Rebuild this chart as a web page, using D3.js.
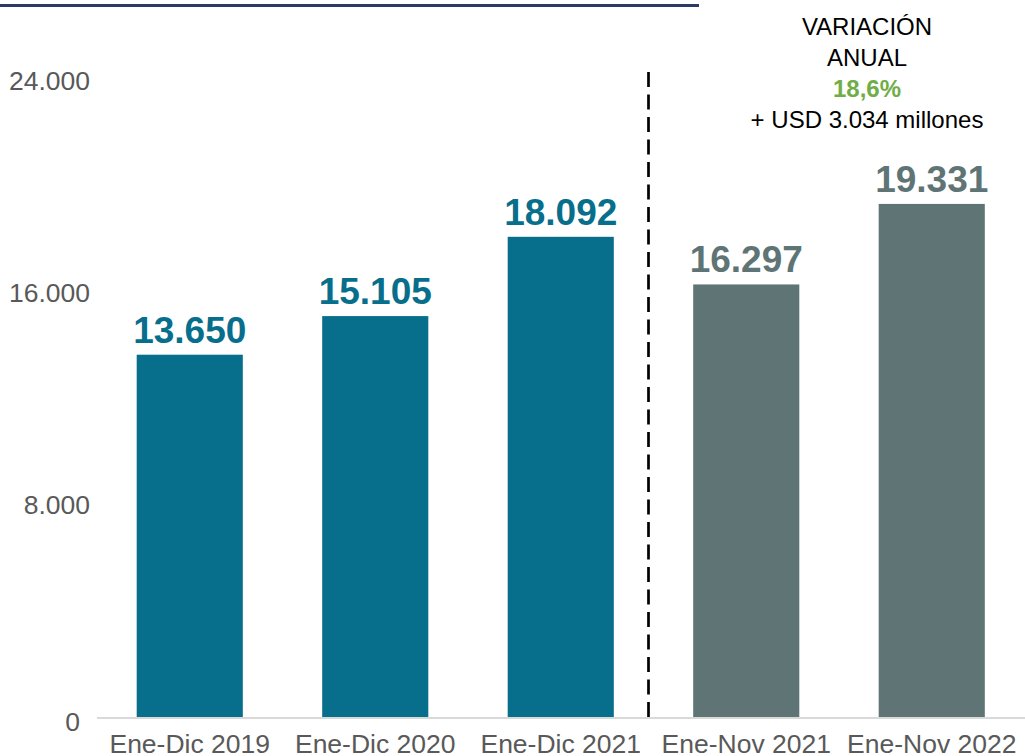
<!DOCTYPE html>
<html>
<head>
<meta charset="utf-8">
<script src="https://cdn.jsdelivr.net/npm/d3@7"></script>
<style>
    body { margin: 0; background: #fff; }
    svg { display: block; font-family: "Liberation Sans", Arial, sans-serif; }
</style>
</head>
<body>
<div class="chart"></div>
<script>
// Data
const categories = ["Ene-Dic 2019", "Ene-Dic 2020", "Ene-Dic 2021", "Ene-Nov 2021", "Ene-Nov 2022"];
const values = [13650, 15105, 18092, 16297, 19331];
const groups = ["anual", "anual", "anual", "parcial", "parcial"];
const yTicks = [0, 8000, 16000, 24000];
const noteTitle = ["VARIACIÓN", "ANUAL"];

const width = 1025, height = 756;
const margin = { top: 80, right: 1, bottom: 39, left: 97 };

const es = d3.formatLocale({ decimal: ",", thousands: ".", grouping: [3], currency: ["USD ", ""] });
const fmtNum = es.format(",d");
const fmtPct = es.format(".1%");

const color = d3.scaleOrdinal()
    .domain(["anual", "parcial"])
    .range(["#076E8B", "#5E7475"]);

const svg = d3.select(".chart").append("svg")
    .attr("width", width)
    .attr("height", height);

const x = d3.scaleBand()
    .domain(categories)
    .range([margin.left, width - margin.right + 0.5])
    .paddingInner(0.428)
    .paddingOuter(0.214);

const y = d3.scaleLinear()
    .domain([0, 24000])
    .range([height - margin.bottom, margin.top]);

// Top rule
svg.append("line")
    .attr("x1", 0).attr("x2", 699)
    .attr("y1", 5.5).attr("y2", 5.5)
    .attr("stroke", "#2E3A66")
    .attr("stroke-width", 3);

// Y axis labels
const yAxis = svg.append("g")
    .attr("transform", `translate(${margin.left},0)`)
    .call(d3.axisLeft(y).tickValues(yTicks).tickSize(0).tickPadding(7).tickFormat(fmtNum));
yAxis.select(".domain").remove();
yAxis.selectAll("text")
    .style("font-size", "26.5px")
    .style("fill", "#595959")
    .attr("font-family", null)
    .attr("dx", d => d === 0 ? -10 : 0)
    .attr("dy", d => d === 0 ? "0.52em" : "0.35em");

// Bars
svg.selectAll(".bar")
    .data(values)
    .enter()
    .append("rect")
    .attr("class", "bar")
    .attr("x", (d, i) => x(categories[i]))
    .attr("y", d => y(d))
    .attr("width", x.bandwidth())
    .attr("height", d => y(0) - y(d))
    .attr("fill", (d, i) => color(groups[i]));

// Baseline
svg.append("line")
    .attr("x1", margin.left).attr("x2", width)
    .attr("y1", y(0) + 1).attr("y2", y(0) + 1)
    .attr("stroke", "#D9D9D9")
    .attr("stroke-width", 2);

// Value labels
svg.selectAll(".value")
    .data(values)
    .enter()
    .append("text")
    .attr("class", "value")
    .attr("x", (d, i) => x(categories[i]) + x.bandwidth() / 2)
    .attr("y", d => y(d) - 12)
    .attr("text-anchor", "middle")
    .style("font-size", "37px")
    .style("font-weight", "bold")
    .style("fill", (d, i) => color(groups[i]))
    .text(d => fmtNum(d));

// Category labels
svg.selectAll(".cat")
    .data(categories)
    .enter()
    .append("text")
    .attr("class", "cat")
    .attr("x", d => x(d) + x.bandwidth() / 2)
    .attr("y", y(0) + 36)
    .attr("text-anchor", "middle")
    .style("font-size", "26.5px")
    .style("fill", "#595959")
    .text(d => d);

// Dashed separator between the annual and partial periods
const sepX = x(categories[3]) - x.step() * x.paddingInner() / 2 - 5;
svg.append("line")
    .attr("x1", sepX).attr("x2", sepX)
    .attr("y1", 72).attr("y2", y(0))
    .attr("stroke", "#000")
    .attr("stroke-width", 2.7)
    .attr("stroke-dasharray", "15,7.5");

// Annual variation note
const last = values[4], prev = values[3];
const noteX = 867;
const note = svg.append("g")
    .attr("text-anchor", "middle")
    .style("font-size", "24px")
    .style("fill", "#000");

note.selectAll(".note-title")
    .data(noteTitle)
    .enter()
    .append("text")
    .attr("x", noteX)
    .attr("y", (d, i) => 35 + i * 30.5)
    .text(d => d);

note.append("text")
    .attr("x", noteX)
    .attr("y", 97)
    .style("font-weight", "bold")
    .style("fill", "#70AD47")
    .text(fmtPct(last / prev - 1));

note.append("text")
    .attr("x", noteX)
    .attr("y", 128)
    .text(`+ USD ${fmtNum(last - prev)} millones`);
</script>
</body>
</html>
